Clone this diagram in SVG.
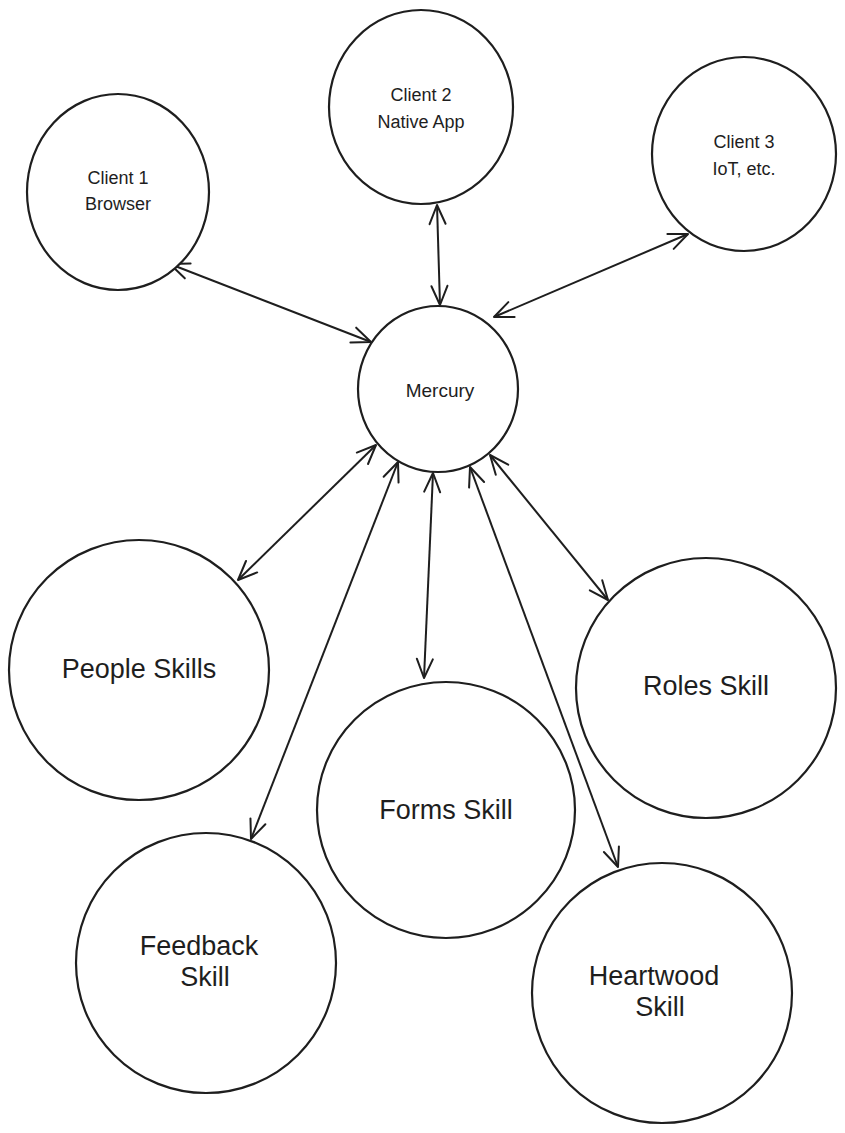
<svg xmlns="http://www.w3.org/2000/svg" width="845" height="1133" viewBox="0 0 845 1133">
<style>
.node ellipse{fill:#ffffff;stroke:#1e1e1e;stroke-width:2.2}
.lbl{font-family:"Liberation Sans","DejaVu Sans",sans-serif;fill:#1e1e1e;text-anchor:middle;dominant-baseline:central}
.s{font-size:18px}
.m{font-size:19px}
.b{font-size:27px}
.edge{stroke:#1e1e1e;stroke-width:2;fill:none;marker-start:url(#ah);marker-end:url(#ah)}
</style>
<defs>
<marker id="ah" markerUnits="userSpaceOnUse" viewBox="-22 -12 26 24" markerWidth="26" markerHeight="24" refX="0" refY="0" orient="auto-start-reverse">
<path d="M-19,-8 L0,0 L-19,8" fill="none" stroke="#1e1e1e" stroke-width="2" stroke-linecap="round" stroke-linejoin="round"/>
</marker>
</defs>
<rect width="845" height="1133" fill="#ffffff"/>
<g id="connectors">
<line class="edge" x1="170" y1="264" x2="371" y2="342"/>
<line class="edge" x1="437" y1="205" x2="440" y2="305"/>
<line class="edge" x1="688" y1="234" x2="494" y2="317"/>
<line class="edge" x1="376" y1="445" x2="238" y2="580"/>
<line class="edge" x1="398" y1="462" x2="251" y2="839"/>
<line class="edge" x1="433" y1="473" x2="424" y2="678"/>
<line class="edge" x1="470" y1="467" x2="618" y2="867"/>
<line class="edge" x1="490" y1="455" x2="608" y2="600"/>
</g>
<g id="client1" class="node">
<ellipse cx="118" cy="192" rx="91" ry="98"/>
<text class="lbl s" x="118" y="178">Client 1</text>
<text class="lbl s" x="118" y="204">Browser</text>
</g>
<g id="client2" class="node">
<ellipse cx="421" cy="107" rx="92" ry="97"/>
<text class="lbl s" x="421" y="95">Client 2</text>
<text class="lbl s" x="421" y="122">Native App</text>
</g>
<g id="client3" class="node">
<ellipse cx="744" cy="154" rx="92" ry="97"/>
<text class="lbl s" x="744" y="142">Client 3</text>
<text class="lbl s" x="744" y="169">IoT, etc.</text>
</g>
<g id="mercury" class="node">
<ellipse cx="438" cy="389" rx="80" ry="83"/>
<text class="lbl m" x="440" y="390">Mercury</text>
</g>
<g id="people" class="node">
<ellipse cx="139" cy="670" rx="130" ry="130"/>
<text class="lbl b" x="139" y="669">People Skills</text>
</g>
<g id="forms" class="node">
<ellipse cx="446" cy="810" rx="129" ry="128"/>
<text class="lbl b" x="446" y="810">Forms Skill</text>
</g>
<g id="roles" class="node">
<ellipse cx="706" cy="688" rx="130" ry="130"/>
<text class="lbl b" x="706" y="686">Roles Skill</text>
</g>
<g id="feedback" class="node">
<ellipse cx="206" cy="963" rx="130" ry="130"/>
<text class="lbl b" x="199" y="946">Feedback</text>
<text class="lbl b" x="205" y="977">Skill</text>
</g>
<g id="heartwood" class="node">
<ellipse cx="662" cy="993" rx="130" ry="130"/>
<text class="lbl b" x="654" y="976">Heartwood</text>
<text class="lbl b" x="660" y="1007">Skill</text>
</g>
</svg>
